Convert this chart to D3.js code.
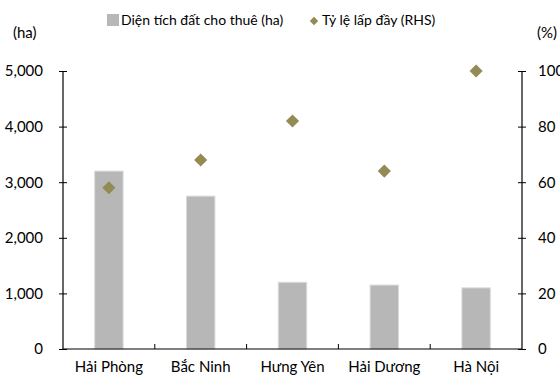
<!DOCTYPE html>
<html>
<head>
<meta charset="utf-8">
<script src="https://cdn.jsdelivr.net/npm/d3@7/dist/d3.min.js"></script>
<style>
  html, body { margin: 0; padding: 0; background: #fff; }
  svg text { font-family: "Source Sans Pro", "Lato", "Noto Sans", sans-serif; fill: #000; }
</style>
</head>
<body>
<svg id="chart" width="560" height="379"></svg>
<script>
// Khu công nghiệp: diện tích đất cho thuê và tỷ lệ lấp đầy
const categories = ["Hải Phòng", "Bắc Ninh", "Hưng Yên", "Hải Dương", "Hà Nội"];
const areaHa = [3200, 2750, 1200, 1150, 1100];
const occupancyPct = [58, 68, 82, 64, 100];
const leftTicks = [0, 1000, 2000, 3000, 4000, 5000];
const rightTicks = [0, 20, 40, 60, 80, 100];

const svg = d3.select("#chart");
const m = { left: 63, right: 522, top: 71, bottom: 349 };

const x = d3.scaleBand().domain(categories).range([m.left, m.right]);
const yL = d3.scaleLinear().domain([0, 5000]).range([m.bottom, m.top]);
const yR = d3.scaleLinear().domain([0, 100]).range([m.bottom, m.top]);

const barColor = "#b7b7b7";
const dotColor = "#948a54";
const barW = x.bandwidth() * 0.31;

// bars
svg.append("g").selectAll("rect").data(categories).join("rect")
  .attr("x", (d) => x(d) + x.bandwidth() / 2 - barW / 2)
  .attr("y", (d, i) => yL(areaHa[i]))
  .attr("width", barW)
  .attr("height", (d, i) => m.bottom - yL(areaHa[i]))
  .attr("fill", barColor)
  .attr("stroke", "#dcdcdc")
  .attr("stroke-width", 1);

// left axis
const gl = svg.append("g").attr("transform", `translate(${m.left},0)`)
  .call(d3.axisLeft(yL).tickValues(leftTicks).tickFormat(d3.format(",")).tickSize(4).tickPadding(16));
gl.selectAll(".tick line").attr("x1", 4).attr("x2", -4);

// right axis
const gr = svg.append("g").attr("transform", `translate(${m.right},0)`)
  .call(d3.axisRight(yR).tickValues(rightTicks).tickSize(4).tickPadding(12));
gr.selectAll(".tick line").attr("x1", -4).attr("x2", 4);

// bottom axis
const gb = svg.append("g").attr("transform", `translate(0,${m.bottom})`)
  .call(d3.axisBottom(x).tickSize(0).tickPadding(12));
gb.selectAll(".tick line").remove();
// category separators
gb.append("g").selectAll("line").data(categories.slice(1)).join("line")
  .attr("x1", (d) => x(d)).attr("x2", (d) => x(d))
  .attr("y1", 0).attr("y2", -5)
  .attr("stroke", "#000");

[gl, gr, gb].forEach((g) => {
  g.selectAll(".domain").attr("stroke", "#000").attr("stroke-width", 1.2);
  g.selectAll(".tick line").attr("stroke", "#000");
  g.selectAll("text").attr("font-size", 15).style("font-family", null);
});
gl.select(".domain").attr("d", `M0,${m.top}V${m.bottom}`);
gr.select(".domain").attr("d", `M0,${m.top}V${m.bottom}`);
gb.select(".domain").attr("d", `M${m.left},0H${m.right}`);

// diamonds
const diamond = d3.symbol().type(d3.symbolDiamond2).size(110);
svg.append("g").selectAll("path").data(categories).join("path")
  .attr("d", diamond)
  .attr("transform", (d, i) => `translate(${x(d) + x.bandwidth() / 2},${yR(occupancyPct[i])})`)
  .attr("fill", dotColor);

// axis units
svg.append("text").attr("x", 13).attr("y", 38).attr("font-size", 15).text("(ha)");
svg.append("text").attr("x", 537).attr("y", 38).attr("font-size", 15).text("(%)");

// legend
const lg = svg.append("g");
lg.append("rect").attr("x", 107).attr("y", 14).attr("width", 12).attr("height", 12).attr("fill", barColor);
lg.append("text").attr("x", 121).attr("y", 25).attr("font-size", 14).text("Diện tích đất cho thuê (ha)");
lg.append("path").attr("d", d3.symbol().type(d3.symbolDiamond2).size(45))
  .attr("transform", "translate(314,21)").attr("fill", dotColor);
lg.append("text").attr("x", 322).attr("y", 25).attr("font-size", 14).text("Tỷ lệ lấp đầy (RHS)");
</script>
</body>
</html>
